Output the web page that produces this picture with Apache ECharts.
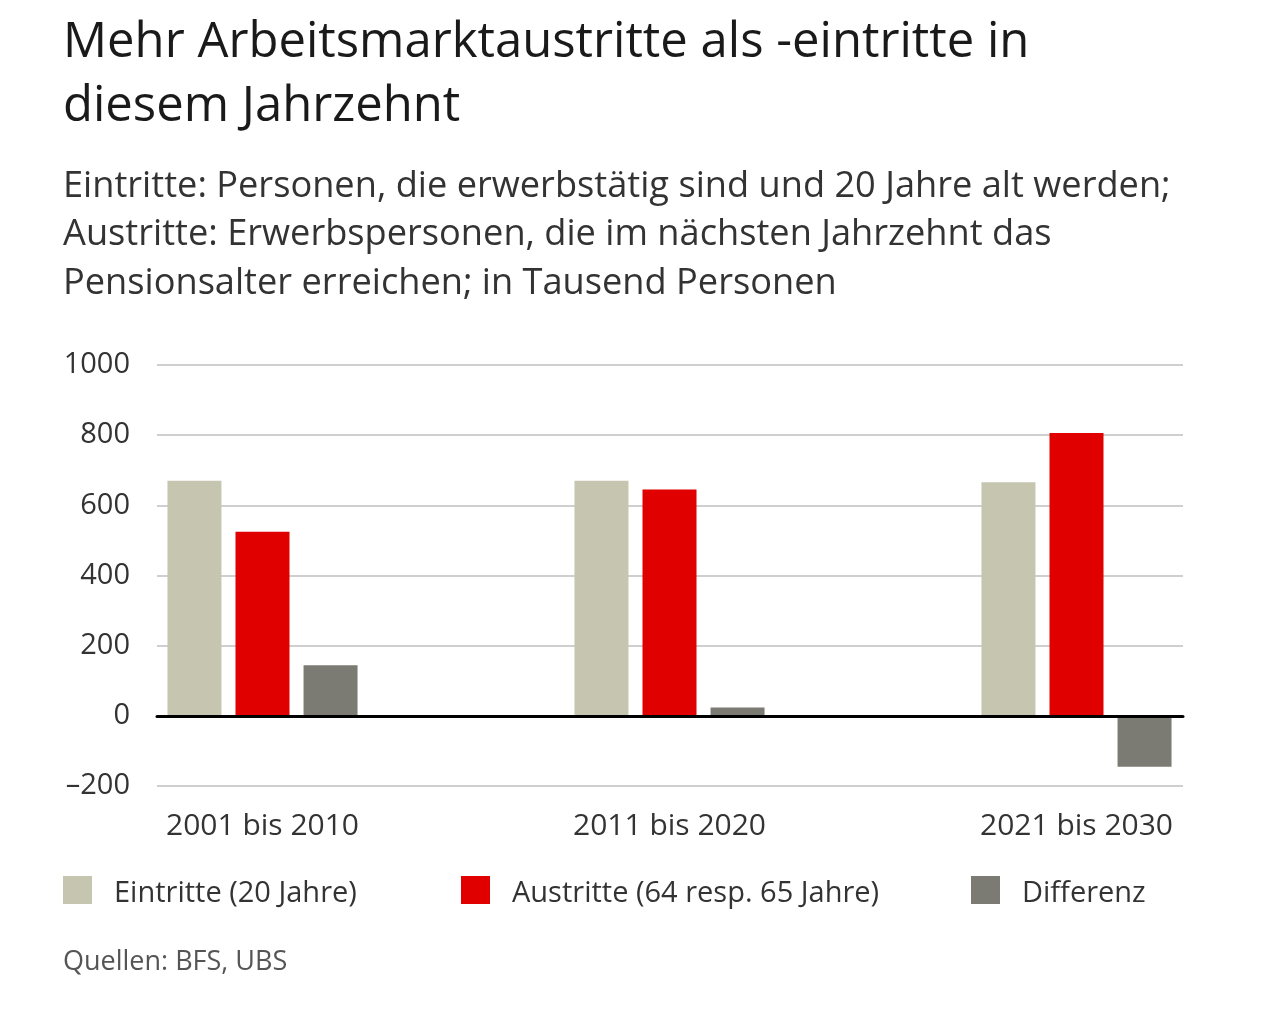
<!DOCTYPE html>
<html>
<head>
<meta charset="utf-8">
<script src="https://cdn.jsdelivr.net/npm/echarts@6/dist/echarts.min.js"></script>
<style>
html,body{margin:0;padding:0;background:#fff;}
#chart{width:1280px;height:1023px;}
</style>
</head>
<body>
<div id="chart"></div>
<script>
var categories = ['2001 bis 2010', '2011 bis 2020', '2021 bis 2030'];
var eintritte = [670, 670, 666];
var austritte = [525, 645, 806];
var differenz = [144, 24, -145];
var seriesNames = ['Eintritte (20 Jahre)', 'Austritte (64 resp. 65 Jahre)', 'Differenz'];
var yTicks = { min: -200, max: 1000, interval: 200 };

var FONT = '"Open Sans", "Noto Sans", sans-serif';
var colors = ['#c6c6b0', '#e00000', '#7b7b73'];

var chart = echarts.init(document.getElementById('chart'), null, { renderer: 'canvas' });

function legendFor(i, left) {
  return {
    left: left, top: 876, orient: 'horizontal', padding: 0,
    itemWidth: 29, itemHeight: 28, icon: 'rect',
    data: [seriesNames[i]],
    selectedMode: false,
    formatter: function (name) { return '{t|' + name + '}'; },
    textStyle: {
      fontFamily: FONT, fontSize: 29, color: '#333', padding: [0, 0, 0, 17],
      rich: { t: { fontFamily: FONT, fontSize: 29, color: '#333', padding: [8, 0, 0, 0] } }
    }
  };
}

chart.setOption({
  backgroundColor: '#ffffff',
  animation: false,
  color: colors,
  title: [
    {
      text: 'Mehr Arbeitsmarktaustritte als -eintritte in\ndiesem Jahrzehnt',
      left: 63, top: 11, padding: 0,
      textStyle: { fontFamily: FONT, fontSize: 49, fontWeight: 'normal', color: '#1a1a1a', lineHeight: 64 }
    },
    {
      text: 'Eintritte: Personen, die erwerbstätig sind und 20 Jahre alt werden;\nAustritte: Erwerbspersonen, die im nächsten Jahrzehnt das\nPensionsalter erreichen; in Tausend Personen',
      left: 63, top: 162, padding: 0,
      textStyle: { fontFamily: FONT, fontSize: 36.2, fontWeight: 'normal', color: '#333', lineHeight: 48.5 }
    },
    {
      text: 'Quellen: BFS, UBS',
      left: 63, top: 946, padding: 0,
      textStyle: { fontFamily: FONT, fontSize: 27, fontWeight: 'normal', color: '#555', lineHeight: 32 }
    }
  ],
  legend: [legendFor(0, 63), legendFor(1, 461), legendFor(2, 971)],
  grid: [
    { left: 59, top: 365, width: 1222, height: 421, containLabel: false },
    { left: 157, top: 365, width: 1026, height: 421, containLabel: false }
  ],
  xAxis: [
    {
      type: 'category', gridIndex: 0, data: categories,
      axisLine: { show: false, onZero: false }, axisTick: { show: false },
      axisLabel: { fontFamily: FONT, fontSize: 30, color: '#333', margin: 25 },
      splitLine: { show: false }
    },
    {
      type: 'category', gridIndex: 1, data: categories, z: 10,
      axisLine: { show: true, onZero: true, lineStyle: { color: '#000', width: 3 } },
      axisTick: { show: false }, axisLabel: { show: false }, splitLine: { show: false }
    }
  ],
  yAxis: [
    {
      type: 'value', gridIndex: 0, min: yTicks.min, max: yTicks.max, interval: yTicks.interval,
      show: false, splitLine: { show: false }
    },
    {
      type: 'value', gridIndex: 1, min: yTicks.min, max: yTicks.max, interval: yTicks.interval,
      axisLine: { show: false }, axisTick: { show: false },
      axisLabel: {
        fontFamily: FONT, fontSize: 29, color: '#333', margin: 27,
        formatter: function (v) { return v < 0 ? '\u2013' + Math.abs(v) : String(v); }
      },
      splitLine: { show: true, lineStyle: { color: '#cfcfcf', width: 2 } }
    }
  ],
  series: [
    { name: seriesNames[0], type: 'bar', xAxisIndex: 0, yAxisIndex: 0, data: eintritte, barWidth: 54, barGap: '26%', itemStyle: { color: colors[0] } },
    { name: seriesNames[1], type: 'bar', xAxisIndex: 0, yAxisIndex: 0, data: austritte, barWidth: 54, barGap: '26%', itemStyle: { color: colors[1] } },
    { name: seriesNames[2], type: 'bar', xAxisIndex: 0, yAxisIndex: 0, data: differenz, barWidth: 54, barGap: '26%', itemStyle: { color: colors[2] } }
  ]
});
</script>
</body>
</html>
